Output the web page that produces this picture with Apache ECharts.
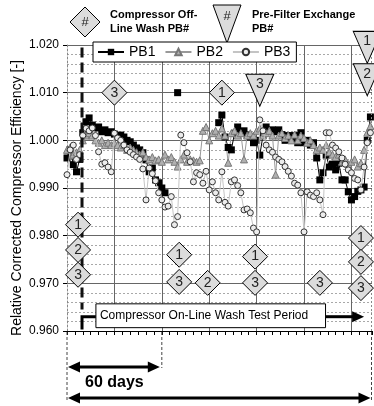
<!DOCTYPE html>
<html><head><meta charset="utf-8">
<script src="https://cdn.jsdelivr.net/npm/echarts@6/dist/echarts.min.js"></script>
<style>html,body{margin:0;padding:0;background:#fff}#c{width:374px;height:406px}</style>
</head><body><div id="c"></div>
<script>
// ---- data (days since start, relative corrected compressor efficiency) ----
const days = [0,2,4,6,8,10,12,14,16,18,20,22,24,26,28,30,32,34,36,38,40,42,44,46,48,50,52,54,56,58,60,62,64,66,68,70,72,74,76,78,80,82,84,86,88,90,92,94,96,98,100,102,104,106,108,110,112,114,116,118,120,122,124,126,128,130,132,134,136,138,140,142,144,146,148,150,152,154,156,158,160,162,164,166,168,170,172,174,176,178,180,182,184,186,188,190,192];
const pb1 = [0.9963,0.998,0.9949,0.9934,0.996,1.0016,1.0039,1.0047,1.0032,1.0026,1.0028,1.0018,1.0022,1.0016,1.0018,1.0013,1.0009,1.0011,1.0007,1.000,0.9997,0.999,0.9984,0.998,0.9974,0.9959,0.9934,0.9942,0.9917,0.9911,0.990,0.989,
 null,null,null,1.010,null,null,null,null,null,null,null,null,null,null,null,null,
 1.0037,1.0053,1.0007,0.9985,0.998,1.0015,1.0028,1.0018,1.002,1.0011,1.0007,0.9995,1.000,0.9969,1.001,1.0028,1.002,1.0022,1.0018,1.0022,1.0012,1.000,1.001,1.0005,1.001,0.9995,1.0016,0.9995,1.000,0.999,0.9995,0.9963,0.9917,0.9932,0.9969,0.9944,0.995,0.9938,0.9952,0.9917,0.9917,0.9892,0.9875,0.9882,0.9893,0.9896,0.9902,1.000,1.0049];
const pb2 = [0.998,0.9985,0.997,0.9975,0.998,1.000,1.001,1.0015,1.001,1.000,0.9995,1.000,0.999,0.9995,0.999,0.9995,0.999,0.9985,0.999,0.998,0.9985,0.998,0.9975,0.997,0.9975,0.9965,0.996,0.9965,0.9958,0.996,0.9955,0.997,0.996,0.9965,0.9955,0.9945,0.996,0.997,0.9955,0.996,0.9958,0.9955,0.9958,1.002,1.0028,1.000,1.0015,1.002,1.001,1.0025,1.001,0.9953,1.0015,1.002,1.001,1.0015,0.996,1.001,1.0015,1.001,1.002,1.0025,1.001,1.0015,1.002,1.001,0.9928,1.001,1.0015,1.0005,1.001,1.000,1.0012,1.000,1.001,1.0005,0.9995,1.000,0.999,0.998,0.9985,0.998,0.999,0.9975,0.997,0.9965,0.997,0.9955,0.996,0.995,0.9955,0.996,0.9945,0.9952,0.998,1.0016,1.003];
const pb3 = [0.9928,0.998,0.999,0.996,0.997,1.001,1.0025,1.002,1.0026,1.001,0.9976,0.995,0.9953,0.9944,0.9934,1.0015,1.0005,1.000,0.999,0.998,0.9975,0.997,0.9965,0.996,0.994,0.9875,0.9942,0.993,0.9915,0.989,0.9875,0.986,0.9862,0.9882,0.9823,0.984,1.0011,0.9995,0.9974,0.9955,0.9913,0.9932,0.9928,0.991,0.9935,0.9896,0.9913,0.989,0.9875,0.9934,0.987,0.9862,0.9913,0.9917,0.9905,0.989,0.9854,0.9856,0.9848,0.9816,0.9808,1.0043,1.002,0.999,0.998,0.9975,0.9965,0.996,0.9955,0.9945,0.9935,0.9925,0.991,0.9906,0.989,0.9808,0.9892,0.9885,0.9882,0.989,0.9875,0.9844,1.0016,1.0016,0.999,0.9984,0.9976,0.9963,0.995,0.9938,0.9932,0.992,0.9917,0.9896,0.9944,0.9995,1.0016];
// compressor off-line wash events (diamonds)
const washDays   = [7, 7, 7, 30, 71, 71, 89, 98, 119, 119, 160, 186, 186, 186];
const washLevels = [0.9823, 0.9770, 0.9718, 1.0100, 0.9760, 0.9703, 0.9701, 1.0100, 0.9756, 0.9701, 0.9701, 0.9795, 0.9745, 0.9690];
const washPB     = [1, 2, 3, 3, 1, 3, 2, 1, 1, 3, 3, 1, 2, 3];
// pre-filter exchange events (triangles)
const filterDays   = [122, 190, 190];
const filterLevels = [1.0105, 1.0195, 1.0127];
const filterPB     = [3, 1, 2];
const seriesNames = ['PB1', 'PB2', 'PB3'];
const onlineWashStartDay = 9.5;
const periodDays = 60;
const axisMaxDay = 193;

const FONT = "'Liberation Sans', Arial, Helvetica, sans-serif";
const chart = echarts.init(document.getElementById('c'));
const toPairs = vals => days.map((d, i) => [d, vals[i] === null ? '-' : vals[i]]);

const option = {
  animation: false,
  textStyle: { fontFamily: FONT },
  grid: { left: 67, right: 2, top: 45, bottom: 75, containLabel: false },
  legend: {
    data: seriesNames, left: 93, top: 42, orient: 'horizontal',
    padding: [3, 6, 3, 4], itemGap: 9, itemWidth: 26, itemHeight: 8,
    backgroundColor: '#fff', borderColor: '#000', borderWidth: 1, borderRadius: 0,
    textStyle: { fontSize: 14, color: '#000', fontFamily: FONT },
    selectedMode: false, z: 8
  },
  xAxis: [
    { type: 'value', min: 0, max: axisMaxDay, interval: 5,
      axisLabel: { show: false },
      axisLine: { show: true, onZero: false, lineStyle: { color: '#000', width: 1 } },
      axisTick: { show: true, length: 4, lineStyle: { color: '#000' } },
      splitLine: { show: false } },
    { type: 'value', min: 0, max: axisMaxDay, interval: 30, position: 'bottom',
      axisLabel: { show: false }, axisLine: { show: false }, axisTick: { show: false },
      splitLine: { show: true, showMinLine: false, showMaxLine: false, lineStyle: { color: '#666', width: 1 } } }
  ],
  yAxis: {
    type: 'value', min: 0.96, max: 1.02, interval: 0.01,
    axisLabel: { formatter: v => v.toFixed(3), fontSize: 12, color: '#000', margin: 8, fontFamily: FONT },
    axisLine: { show: true, lineStyle: { color: '#888', type: [2, 2] } },
    axisTick: { show: true, length: 4, lineStyle: { color: '#000' } },
    splitLine: { show: true, lineStyle: { color: '#666', width: 1 } },
    minorTick: { show: false, splitNumber: 5 },
    minorSplitLine: { show: true, lineStyle: { color: '#a8a8a8', type: [2, 2], width: 1 } }
  },
  series: [
    { name: 'PB1', type: 'line', data: toPairs(pb1), symbol: 'rect', symbolSize: 7, showAllSymbol: true,
      connectNulls: false, z: 2,
      itemStyle: { color: '#000' }, lineStyle: { color: '#000', width: 1 }, emphasis: { disabled: true } },
    { name: 'PB2', type: 'line', data: toPairs(pb2), symbol: 'triangle', symbolSize: 7, showAllSymbol: true,
      connectNulls: false, z: 2,
      itemStyle: { color: '#b0b0b0', borderColor: '#777', borderWidth: 1 }, lineStyle: { color: '#999', width: 1 }, emphasis: { disabled: true } },
    { name: 'PB3', type: 'line', data: toPairs(pb3), symbol: 'circle', symbolSize: 6, showAllSymbol: true,
      connectNulls: false, z: 3,
      itemStyle: { color: '#ececec', borderColor: '#333', borderWidth: 1 }, lineStyle: { color: '#c4c4c4', width: 1 }, emphasis: { disabled: true } },
    { name: 'wash', type: 'scatter', data: washDays.map((d, i) => [d, washLevels[i], washPB[i]]),
      symbol: 'diamond', symbolSize: 25, clip: false, z: 6,
      itemStyle: { color: '#dcdcdc', borderColor: '#000', borderWidth: 1, opacity: 1 },
      label: { show: true, position: 'inside', formatter: p => String(p.value[2]), fontSize: 14, color: '#222', fontFamily: FONT },
      emphasis: { disabled: true } },
    { name: 'filter', type: 'scatter', data: filterDays.map((d, i) => [d, filterLevels[i], filterPB[i]]),
      symbol: 'triangle', symbolRotate: 180, symbolSize: [28, 32], clip: false, z: 6,
      itemStyle: { color: '#dcdcdc', borderColor: '#000', borderWidth: 1, opacity: 1 },
      label: { show: true, position: 'inside', offset: [0, -6], formatter: p => String(p.value[2]), fontSize: 14, color: '#222', fontFamily: FONT },
      emphasis: { disabled: true } }
  ]
};
chart.setOption(option);

// ---- annotations ----
const P = (d, v) => chart.convertToPixel({ xAxisIndex: 0, yAxisIndex: 0 }, [d, v]);
const els = [];
const blk = '#000';
function hArrow(x1, x2, y, both) {
  const a = [];
  a.push({ type: 'line', z: 7, shape: { x1: both ? x1 + 8 : x1, y1: y, x2: x2 - 8, y2: y }, style: { stroke: blk, lineWidth: 3 } });
  if (both) a.push({ type: 'polygon', z: 7, shape: { points: [[x1, y], [x1 + 12, y - 5.5], [x1 + 12, y + 5.5]] }, style: { fill: blk } });
  a.push({ type: 'polygon', z: 7, shape: { points: [[x2, y], [x2 - 12, y - 5.5], [x2 - 12, y + 5.5]] }, style: { fill: blk } });
  return a;
}
// y-axis title
els.push({ type: 'text', x: 17, y: 198, rotation: Math.PI / 2, z: 7,
  style: { text: 'Relative Corrected Compressor Efficiency [-]', font: '14px ' + FONT, fill: '#000', align: 'center', verticalAlign: 'middle' } });
// top key: diamond
els.push({ type: 'polygon', z: 7, shape: { points: [[85, 7], [100, 22], [85, 37], [70, 22]] }, style: { fill: '#dcdcdc', stroke: '#000', lineWidth: 1 } });
els.push({ type: 'text', z: 8, x: 85, y: 22, style: { text: '#', font: '13px ' + FONT, fill: '#222', align: 'center', verticalAlign: 'middle' } });
els.push({ type: 'text', z: 8, x: 110, y: 22, style: { text: 'Compressor Off-\nLine Wash PB#', font: 'bold 11px ' + FONT, lineHeight: 14, fill: '#000', align: 'left', verticalAlign: 'middle' } });
// top key: triangle
els.push({ type: 'polygon', z: 7, shape: { points: [[213, 5], [241, 5], [227, 43]] }, style: { fill: '#dcdcdc', stroke: '#000', lineWidth: 1 } });
els.push({ type: 'text', z: 8, x: 227, y: 16, style: { text: '#', font: '13px ' + FONT, fill: '#222', align: 'center', verticalAlign: 'middle' } });
els.push({ type: 'text', z: 8, x: 252, y: 22, style: { text: 'Pre-Filter Exchange\nPB#', font: 'bold 11px ' + FONT, lineHeight: 14, fill: '#000', align: 'left', verticalAlign: 'middle' } });

// on-line wash start (dashed) and period bracket
const dashTop = P(onlineWashStartDay, 1.0195), dashLow = P(onlineWashStartDay, 0.9645);
els.push({ type: 'line', z: 4, shape: { x1: dashTop[0], y1: dashTop[1], x2: dashLow[0], y2: dashLow[1] }, style: { stroke: '#111', lineWidth: 3, lineDash: [10, 5] } });
const bA = P(onlineWashStartDay, 0.9603), bB = P(onlineWashStartDay, 0.963), bC = P(18.3, 0.963);
els.push({ type: 'polyline', z: 7, shape: { points: [bA, bB, bC] }, style: { stroke: blk, lineWidth: 3, fill: null } });
const boxTL = P(18.3, 0.9657), boxBR = P(163.6, 0.9607);
els.push({ type: 'rect', z: 8, shape: { x: boxTL[0], y: boxTL[1], width: boxBR[0] - boxTL[0], height: boxBR[1] - boxTL[1] }, style: { fill: '#fff', stroke: '#000', lineWidth: 1 } });
els.push({ type: 'text', z: 9, x: boxTL[0] + 4, y: (boxTL[1] + boxBR[1]) / 2, style: { text: 'Compressor On-Line Wash Test Period', font: '12px ' + FONT, fill: '#000', align: 'left', verticalAlign: 'middle' } });
const arrowEnd = P(188, 0.963);
hArrow(boxBR[0], arrowEnd[0], arrowEnd[1], false).forEach(e => els.push(e));

// right border of plot (dotted)
const rT = P(axisMaxDay, 1.02), rB = P(axisMaxDay, 0.96);
els.push({ type: 'line', z: 3, shape: { x1: rT[0] - 0.5, y1: rT[1], x2: rB[0] - 0.5, y2: rB[1] }, style: { stroke: '#888', lineWidth: 1, lineDash: [2, 2] } });
// below-plot day brackets
const x0 = P(0, 0.96)[0], x60 = P(periodDays, 0.96)[0], xEnd = P(axisMaxDay, 0.96)[0] - 0.5, yb = P(0, 0.96)[1];
[[x0, 402], [x60, 368], [xEnd, 402]].forEach(([x, y2]) => els.push({ type: 'line', z: 3, shape: { x1: x, y1: yb + 1, x2: x, y2: y2 }, style: { stroke: '#444', lineWidth: 1, lineDash: [3, 2] } }));
hArrow(x0 + 1, x60 - 2, 367, true).forEach(e => els.push(e));
els.push({ type: 'text', z: 8, x: 85, y: 383, style: { text: '60 days', font: 'bold 16px ' + FONT, fill: '#000', align: 'left', verticalAlign: 'middle' } });
hArrow(x0 + 1, xEnd - 1, 398, true).forEach(e => els.push(e));

chart.setOption({ graphic: { elements: els } });
</script>
</body></html>
